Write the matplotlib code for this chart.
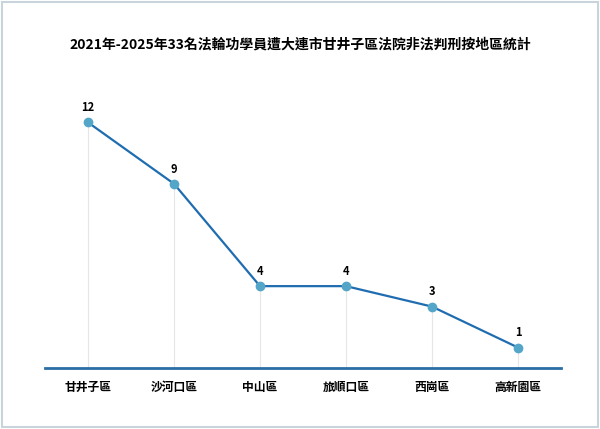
import matplotlib.pyplot as plt
from matplotlib.patches import Rectangle

plt.rcParams['font.family'] = ['Noto Sans CJK TC', 'DejaVu Sans']

title = "2021年-2025年33名法輪功學員遭大連市甘井子區法院非法判刑按地區統計"
districts = ["甘井子區", "沙河口區", "中山區", "旅順口區", "西崗區", "高新園區"]
counts = [12, 9, 4, 4, 3, 1]

fig = plt.figure(figsize=(6, 4.29), dpi=100)
fig.patches.append(Rectangle((0.004, 0.004), 0.992, 0.992, transform=fig.transFigure,
                             fill=False, edgecolor='#c8d3dc', linewidth=1.5))
ax = fig.add_axes([45/600, (429-368)/429, 516/600, 307/429])
x = list(range(len(districts)))
for xi, v in zip(x, counts):
    ax.vlines(xi, 0, v, color='#e6e6e6', linewidth=0.8, zorder=1)
ax.plot(x, counts, color='#1f6db0', linewidth=1.6, marker='o', markersize=6,
        markerfacecolor='#54a6c9', markeredgecolor='#54a6c9', zorder=3)
for xi, v in zip(x, counts):
    ax.annotate(str(v), (xi, v), xytext=(0, 8), textcoords='offset points',
                ha='center', fontsize=8, fontweight='bold')
ax.set_xlim(-0.5, len(districts) - 0.5)
ax.set_ylim(0, 15)
ax.set_xticks(x)
ax.set_xticklabels(districts, fontsize=8.5, fontweight='bold')
ax.tick_params(axis='x', length=0, pad=9)
ax.set_yticks([])
for s in ['top', 'right', 'left']:
    ax.spines[s].set_visible(False)
ax.spines['bottom'].set_color('#2a6ea6')
ax.spines['bottom'].set_linewidth(2)
fig.text(0.5, 1 - 45/429, title, ha='center', va='center', fontsize=10, fontweight='bold')
fig.savefig('out.png', dpi=100)
